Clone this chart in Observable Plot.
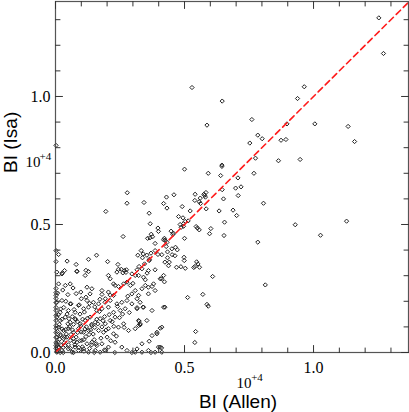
<!DOCTYPE html>
<html><head><meta charset="utf-8">
<script src="https://cdn.jsdelivr.net/npm/d3@7"></script>
<script src="https://cdn.jsdelivr.net/npm/@observablehq/plot@0.6"></script>
<style>body{margin:0;background:#fff}#chart{width:409px;height:412px;overflow:hidden}</style>
</head><body><div id="chart"></div>
<script>
// BI (Allen) vs BI (Isa), values in units of 10^4
const upperPoints = [[1.253,1.307],[1.271,1.168],[0.964,1.038],[0.938,0.992],[0.897,0.893],[1.005,0.893],[1.134,0.883],[0.893,0.832],[1.159,0.824],[0.948,0.754],[0.929,0.499],[1.128,0.513],[1.027,0.458],[0.529,1.035],[0.646,0.982],[0.587,0.888],[0.761,0.910],[0.784,0.849],[0.801,0.835],[0.753,0.818],[0.775,0.759],[0.864,0.749],[0.874,0.829],[0.645,0.732],[0.002,0.809]];
const midPoints = [[0.500,0.716],[0.645,0.727],[0.592,0.700],[0.640,0.691],[0.707,0.682],[0.769,0.700],
[0.698,0.642],[0.719,0.647],[0.708,0.613],[0.646,0.636],[0.541,0.618],[0.575,0.618],[0.583,0.625],[0.578,0.614],[0.581,0.607],[0.561,0.603],[0.557,0.589],[0.562,0.582],[0.540,0.594],[0.584,0.561],[0.651,0.600],[0.806,0.583],
[0.430,0.607],[0.459,0.616],[0.419,0.582],[0.432,0.564],[0.491,0.570],[0.522,0.553],[0.634,0.553],[0.688,0.556],[0.702,0.535],[0.477,0.531],[0.494,0.526],[0.655,0.509],[0.483,0.500],[0.496,0.503],[0.503,0.512],[0.514,0.514],
[0.487,0.489],[0.496,0.493],[0.545,0.492],[0.550,0.486],[0.557,0.479],[0.602,0.484],[0.597,0.464],[0.653,0.457],[0.448,0.474],[0.457,0.466],[0.455,0.461],[0.500,0.446],[0.784,0.431],[0.422,0.446],[0.425,0.438],[0.419,0.440],
[0.432,0.430],[0.429,0.414],[0.434,0.393],[0.451,0.405],[0.465,0.411],[0.472,0.401],[0.452,0.382],[0.463,0.378],[0.434,0.370],[0.441,0.353],[0.424,0.353],[0.438,0.339],[0.469,0.333],[0.486,0.335],[0.503,0.329],[0.412,0.382],
[0.498,0.372],[0.499,0.359],[0.547,0.354],[0.552,0.346],[0.540,0.336],[0.558,0.333],[0.536,0.332],[0.609,0.297],[0.411,0.288],[0.422,0.276],[0.813,0.264],[0.571,0.227],[0.512,0.215],[0.587,0.188],[0.592,0.181],[0.424,0.177],[0.406,0.095],[0.543,0.082],[0.540,0.039],[0.411,0.018]];
const innerPoints = [[0.278,0.624],[0.277,0.583],[0.343,0.586],[0.195,0.551],[0.363,0.544],[0.367,0.503],[0.397,0.486],[0.399,0.473],[0.371,0.462],[0.366,0.448],[0.357,0.446],[0.376,0.452],[0.262,0.453],[0.386,0.426],[0.332,0.398],[0.340,0.385],[0.319,0.380],[0.337,0.370],[0.354,0.380],[0.364,0.364],[0.370,0.388],[0.386,0.398],[0.397,0.383],[0.345,0.346],[0.363,0.359],[0.324,0.336],[0.316,0.323],[0.335,0.327],[0.360,0.320],[0.355,0.310],[0.386,0.323],
[0.002,0.398],[0.012,0.383],[0.002,0.355],[0.045,0.357],[0.080,0.344],[0.128,0.364],[0.159,0.380],[0.202,0.355],[0.242,0.344],[0.118,0.321],[0.083,0.316],[0.035,0.320],[0.027,0.311],[0.115,0.301],[0.244,0.325],[0.255,0.325],[0.267,0.320],[0.275,0.323],[0.261,0.311],[0.273,0.313],[0.296,0.307],[0.309,0.301],
[0.005,0.314],[0.025,0.307],[0.083,0.318],[0.128,0.316],[0.205,0.301],[0.212,0.288],[0.238,0.314],[0.322,0.301],[0.341,0.294],[0.348,0.284],[0.406,0.288],[0.419,0.301],
[0.012,0.268],[0.038,0.262],[0.057,0.268],[0.122,0.255],[0.141,0.249],[0.134,0.229],[0.180,0.242],[0.225,0.268],[0.231,0.262],[0.244,0.258],[0.264,0.268],[0.277,0.275],[0.290,0.262],[0.309,0.242],[0.335,0.249],[0.348,0.262],[0.360,0.255],[0.374,0.258],[0.380,0.268],[0.296,0.229],[0.322,0.223],[0.225,0.223],[0.205,0.236],[0.180,0.227],[0.360,0.229],[0.386,0.242]];
const lowPoints = [[0.005,0.196],[0.025,0.203],[0.057,0.190],[0.089,0.184],[0.122,0.203],[0.147,0.196],[0.167,0.190],[0.193,0.210],[0.212,0.203],[0.238,0.190],[0.257,0.196],[0.277,0.203],[0.296,0.190],[0.316,0.171],[0.341,0.177],[0.374,0.164],[0.419,0.177],
[0.018,0.157],[0.050,0.164],[0.076,0.157],[0.109,0.171],[0.128,0.177],[0.160,0.164],[0.180,0.171],[0.205,0.177],[0.225,0.157],[0.251,0.164],[0.270,0.171],[0.328,0.196],[0.316,0.210],
[0.005,0.138],[0.018,0.125],[0.038,0.138],[0.057,0.118],[0.076,0.132],[0.096,0.112],[0.115,0.125],[0.134,0.138],[0.141,0.105],[0.154,0.118],[0.173,0.132],[0.193,0.112],[0.212,0.125],[0.231,0.138],[0.244,0.099],[0.264,0.112],[0.283,0.086],[0.309,0.093],[0.322,0.125],[0.328,0.112],[0.354,0.125],[0.374,0.066],[0.393,0.079],[0.412,0.099],
[0.012,0.099],[0.031,0.086],[0.050,0.093],[0.070,0.079],[0.089,0.093],[0.109,0.079],[0.128,0.086],[0.167,0.086],[0.186,0.079],[0.205,0.093],[0.225,0.073],
[0.316,0.175],[0.339,0.177],[0.324,0.122],[0.328,0.108],[0.322,0.105],[0.393,0.073],[0.363,0.044],[0.335,0.034],[0.399,0.021],[0.370,0.000],[0.296,0.000],[0.309,0.001]];
const basePoints = [[0.005,0.060],[0.018,0.066],[0.031,0.054],[0.044,0.060],[0.057,0.047],[0.070,0.054],[0.083,0.040],[0.102,0.047],[0.122,0.034],[0.141,0.040],[0.160,0.027],[0.180,0.034],[0.205,0.021],[0.231,0.040],[0.257,0.021],[0.277,0.008],[0.316,0.014],[0.335,0.001],[0.360,0.008],[0.386,0.001],[0.406,0.021],[0.412,0.001],
[0.005,0.034],[0.014,0.021],[0.025,0.008],[0.038,0.027],[0.050,0.014],[0.064,0.001],[0.076,0.021],[0.089,0.008],[0.109,0.014],[0.128,0.001],[0.154,0.008],[0.173,0.001],[0.193,0.008],[0.005,0.001],[0.018,0.000]];
const axisPoints = [[0.002,0.250],[0.002,0.234],[0.002,0.223],[0.002,0.211],[0.002,0.195],[0.002,0.176],[0.002,0.164],[0.002,0.145],[0.002,0.125],[0.002,0.105],[0.002,0.094],[0.002,0.078],[0.002,0.059],[0.002,0.039],[0.002,0.027],[0.002,0.016]];
const corePoints = [[0.010,0.040],[0.020,0.070],[0.030,0.020],[0.040,0.090],[0.050,0.030],[0.060,0.070],[0.070,0.110],[0.080,0.060],[0.090,0.020],[0.100,0.080],[0.110,0.050],[0.120,0.100],[0.015,0.110],[0.025,0.130],[0.045,0.150],[0.065,0.140],[0.085,0.120],[0.095,0.150],[0.035,0.060],[0.055,0.100],[0.075,0.030],[0.105,0.130],[0.130,0.070],[0.140,0.110],[0.150,0.050],[0.160,0.130],[0.170,0.160],[0.180,0.100],[0.190,0.140],[0.200,0.060],[0.220,0.120],[0.240,0.180],[0.260,0.150],[0.280,0.220],[0.300,0.270],[0.020,0.170],[0.040,0.200],[0.060,0.190],[0.080,0.230],[0.100,0.210],[0.030,0.000],[0.070,0.000],[0.110,0.005],[0.150,0.000],[0.190,0.010],[0.230,0.000],[0.140,0.030],[0.005,0.005],[0.012,0.018],[0.022,0.028],
[0.008,0.082],[0.016,0.052],[0.026,0.092],[0.034,0.038],[0.042,0.072],[0.048,0.112],[0.058,0.016],[0.066,0.088],[0.072,0.042],[0.078,0.128],[0.086,0.078],[0.094,0.046],[0.098,0.104],[0.104,0.022],[0.114,0.092],[0.118,0.062],[0.124,0.134],[0.132,0.016],[0.136,0.088],[0.146,0.072],[0.152,0.098],[0.158,0.034],[0.164,0.112],[0.176,0.056],[0.184,0.124],[0.196,0.088],[0.208,0.148],[0.214,0.046],[0.226,0.102],[0.236,0.064],[0.248,0.136],[0.266,0.098],[0.286,0.156],[0.012,0.148],[0.032,0.176],[0.052,0.132],[0.072,0.168],[0.092,0.186],[0.112,0.158],[0.132,0.192],[0.152,0.178],[0.172,0.208],[0.192,0.196],[0.212,0.224],[0.008,0.232],[0.028,0.244],[0.048,0.226],[0.068,0.252],[0.098,0.236],[0.118,0.216]];

const majorTicks = [0, 0.5, 1.0];
const minorTicks = [0.1, 0.2, 0.3, 0.4, 0.6, 0.7, 0.8, 0.9, 1.1, 1.2, 1.3];
const xDomain = [0, 1.368];
const yDomain = [0, 1.371];
const diagonal = [0, 1.4];
const xLabel = "BI (Allen)";
const yLabel = "BI (Isa)";
const expBase = "10";
const expPower = "+4";

const points = [...upperPoints, ...midPoints, ...innerPoints, ...lowPoints, ...basePoints, ...axisPoints, ...corePoints].map(([x, y]) => ({x, y}));
const tickShape = {draw(ctx, l) { ctx.moveTo(0, 0); ctx.lineTo(0, -l); }};
const tickStyle = {shape: tickShape, anchor: "start", stroke: "#333", strokeWidth: 1};
const sides = [
  {frameAnchor: "bottom", rotate: 0, ch: "x"},
  {frameAnchor: "top", rotate: 180, ch: "x"},
  {frameAnchor: "left", rotate: 90, ch: "y"},
  {frameAnchor: "right", rotate: -90, ch: "y"}
];
const tickMarks = sides.flatMap(s => [
  Plot.vector(majorTicks, {[s.ch]: d => d, frameAnchor: s.frameAnchor, rotate: s.rotate, length: 7, ...tickStyle}),
  Plot.vector(minorTicks, {[s.ch]: d => d, frameAnchor: s.frameAnchor, rotate: s.rotate, length: 4.5, ...tickStyle})
]);
const serif = "Liberation Serif";
const sans = "Liberation Sans";

const chart = Plot.plot({
  width: 409, height: 412,
  marginLeft: 55, marginRight: 1, marginTop: 1, marginBottom: 60,
  x: {domain: xDomain},
  y: {domain: yDomain},
  style: {fontFamily: serif, fontSize: "16px", color: "#000", background: "#fff"},
  marks: [
    Plot.dot(points, {x: "x", y: "y", symbol: "diamond2", r: 1.9, stroke: "#222", strokeWidth: 1, fill: "none"}),
    Plot.line(diagonal, {x: d => d, y: d => d, stroke: "#ff1a1a", strokeWidth: 1.6, strokeDasharray: "6,4", clip: true}),
    Plot.frame({stroke: "#555", strokeWidth: 1.2}),
    ...tickMarks,
    Plot.axisX(majorTicks, {tickSize: 0, tickPadding: 9, tickFormat: d => d.toFixed(1), fontSize: 16, fontFamily: serif, label: null}),
    Plot.axisY(majorTicks, {tickSize: 0, tickPadding: 5, tickFormat: d => d.toFixed(1), fontSize: 16, fontFamily: serif, label: null}),
    Plot.text([xLabel], {frameAnchor: "bottom", dx: 6, dy: 49, fontFamily: sans, fontSize: 19, lineAnchor: "middle"}),
    Plot.text([yLabel], {frameAnchor: "left", rotate: -90, dx: -45, dy: -4, fontFamily: sans, fontSize: 19, lineAnchor: "middle"}),
    Plot.text([expBase], {frameAnchor: "bottom", dx: 12, dy: 31, fontFamily: serif, fontSize: 15, lineAnchor: "middle"}),
    Plot.text([expPower], {frameAnchor: "bottom", dx: 25, dy: 25, fontFamily: serif, fontSize: 11, lineAnchor: "middle"}),
    Plot.text([expBase], {frameAnchor: "left", dx: -30, dy: -15, fontFamily: serif, fontSize: 15, lineAnchor: "middle"}),
    Plot.text([expPower], {frameAnchor: "left", dx: -16, dy: -21, fontFamily: serif, fontSize: 11, lineAnchor: "middle"})
  ]
});
document.getElementById("chart").appendChild(chart);
</script>
</body></html>
